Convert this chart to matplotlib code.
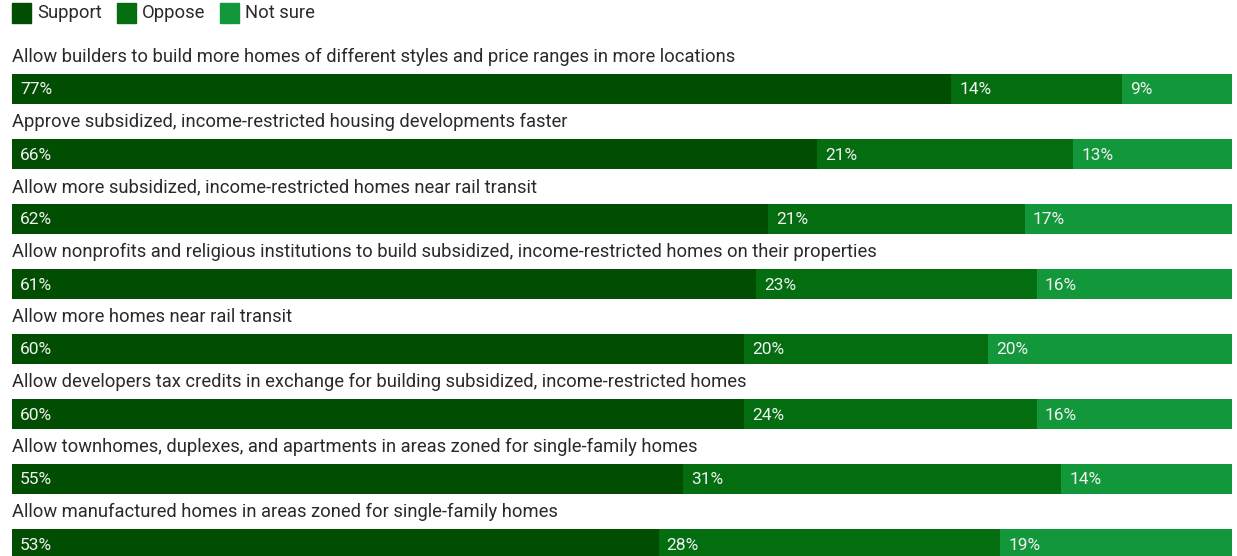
import numpy as np
import matplotlib.pyplot as plt
from matplotlib.patches import Rectangle

plt.rcParams['font.family'] = ['Roboto', 'DejaVu Sans']

questions = [
    'Allow builders to build more homes of different styles and price ranges in more locations',
    'Approve subsidized, income-restricted housing developments faster',
    'Allow more subsidized, income-restricted homes near rail transit',
    'Allow nonprofits and religious institutions to build subsidized, income-restricted homes on their properties',
    'Allow more homes near rail transit',
    'Allow developers tax credits in exchange for building subsidized, income-restricted homes',
    'Allow townhomes, duplexes, and apartments in areas zoned for single-family homes',
    'Allow manufactured homes in areas zoned for single-family homes',
]
support = [77, 66, 62, 61, 60, 60, 55, 53]
oppose = [14, 21, 21, 23, 20, 24, 31, 28]
not_sure = [9, 13, 17, 16, 20, 16, 14, 19]
series = ['Support', 'Oppose', 'Not sure']
colors = ['#014d01', '#036d10', '#12973a']

W, H = 1237, 556
fig = plt.figure(figsize=(W / 100, H / 100), dpi=100)
# axes spans the bar width horizontally, whole height vertically (y in pixels)
ax = fig.add_axes([12 / W, 0, 1220 / W, 1])
ax.set_xlim(0, 100)
ax.set_ylim(H, 0)
ax.axis('off')

row0, step, bar_h = 89, 65, 30
ys = row0 + step * np.arange(len(questions))
left = np.zeros(len(questions))
for vals, col in zip([support, oppose, not_sure], colors):
    vals = np.array(vals)
    ax.barh(ys, vals, left=left, height=bar_h, color=col, edgecolor='none')
    for y, l, v in zip(ys, left, vals):
        ax.text(l + 0.65, y + 1, f'{v}%', color='#f2f2f2', fontsize=12.5,
                va='center', ha='left')
    left = left + vals

for y, q in zip(ys, questions):
    ax.text(0, y - bar_h / 2 - 17, q, color='#2a2a2a', fontsize=13.2,
            va='center', ha='left')

# legend
lx = 12
for name, col in zip(series, colors):
    fig.patches.append(Rectangle((lx / W, 1 - 23 / H), 19 / W, 20 / H,
                                 transform=fig.transFigure, color=col))
    t = fig.text((lx + 25) / W, 1 - 13 / H, name, fontsize=13.2, va='center',
                 ha='left', color='#2a2a2a')
    fig.canvas.draw()
    bb = t.get_window_extent()
    lx = bb.x1 + 15

plt.savefig('out.png', dpi=100)
